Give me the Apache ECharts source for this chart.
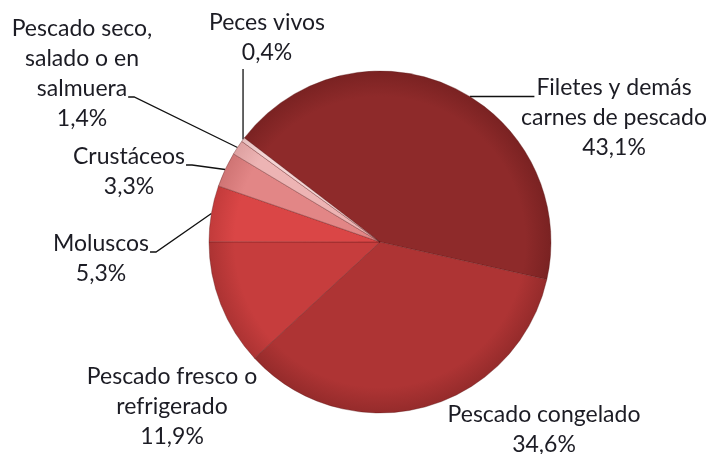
<!DOCTYPE html>
<html>
<head>
<meta charset="utf-8">
<script src="https://cdn.jsdelivr.net/npm/echarts@6/dist/echarts.min.js"></script>
<style>html,body{margin:0;padding:0;background:#fff}#c{width:712px;height:454px}</style>
</head>
<body>
<div id="c"></div>
<script>
const categories = [
  'Filetes y demás\ncarnes de pescado',
  'Pescado congelado',
  'Pescado fresco o\nrefrigerado',
  'Moluscos',
  'Crustáceos',
  'Pescado seco,\nsalado o en\nsalmuera',
  'Peces vivos'
];
const values = [43.1, 34.6, 11.9, 5.3, 3.3, 1.4, 0.4];
const colors = ['#8E2A2A', '#AE3434', '#C63D3D', '#DA4646', '#E28686', '#EDB4B4', '#F4D4D4'];
const rimColors = ['#7A2222', '#952B2B', '#AC3333', '#C23B3B', '#CF7474', '#DDA0A0', '#E6C0C0'];
// leader style: 'h' horizontal to first line, 'v' vertical up, 'l' to right end of last name line, null none
const leader = ['h', null, null, 'l', 'l', 'l', 'v'];
const labelPos = [[614, 118], [544, 430], [172, 407], [101, 259], [129, 172], [82, 74], [267, 38]];

const FONT = 23, LH = 30;
const CX = 380, CY = 242, R = 171;
const ctx = document.createElement('canvas').getContext('2d');
ctx.font = FONT + 'px Lato';
const lineW = t => ctx.measureText(t).width;

const chart = echarts.init(document.getElementById('c'));
chart.setOption({
  animation: false,
  series: [{
    type: 'pie',
    center: [CX, CY],
    radius: R,
    startAngle: 142.5,
    clockwise: true,
    avoidLabelOverlap: false,
    itemStyle: { borderColor: 'rgba(90,20,20,0.35)', borderWidth: 1 },
    label: {
      show: true,
      position: 'outside',
      fontFamily: 'Lato',
      fontSize: FONT,
      lineHeight: LH,
      color: '#1c1c24',
      align: 'center',
      formatter: p => p.name + '\n' + p.value.toFixed(1).replace('.', ',') + '%'
    },
    labelLine: { show: true, length: 6, length2: 6, lineStyle: { color: '#111', width: 1.3 } },
    labelLayout: p => {
      const i = p.dataIndex;
      const x = labelPos[i][0], y = labelPos[i][1];
      const res = { x, y, align: 'center', verticalAlign: 'middle' };
      const pts = p.labelLinePoints;
      const kind = leader[i];
      if (pts && kind) {
        const s = pts[0];
        const names = categories[i].split('\n');
        const h = (names.length + 1) * LH;
        const top = y - h / 2;
        if (kind === 'h') {
          const by = Math.round(top + LH - 7) + 0.5;
          const sx = CX + Math.sqrt(R * R - (by - CY) * (by - CY));
          res.labelLinePoints = [[sx, by], [x - lineW(names[0]) / 2 - 2, by]];
        } else if (kind === 'v') {
          res.labelLinePoints = [s, [s[0], top + h + 1]];
        } else {
          const by = top + (names.length - 1) * LH + LH - 7;
          const rx = x + lineW(names[names.length - 1]) / 2;
          res.labelLinePoints = [s, [rx + 7, by], [rx + 1, by]];
        }
      }
      return res;
    },
    data: categories.map((c, i) => ({
      name: c,
      value: values[i],
      itemStyle: {
        color: new echarts.graphic.RadialGradient(CX, CY, R, [
          { offset: 0, color: colors[i] },
          { offset: 0.85, color: colors[i] },
          { offset: 1, color: rimColors[i] }
        ], true)
      },
      labelLine: { show: !!leader[i] }
    }))
  }]
});
</script>
</body>
</html>
